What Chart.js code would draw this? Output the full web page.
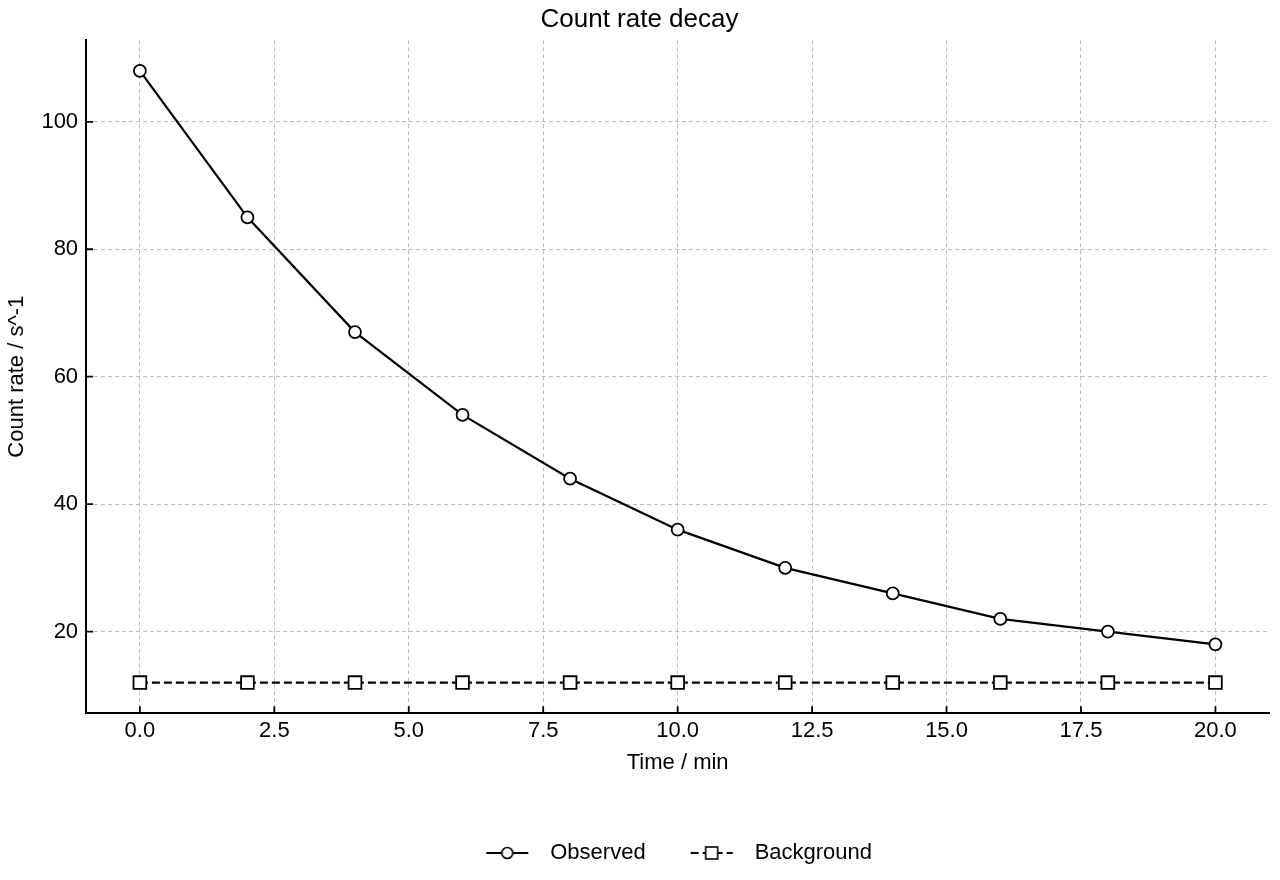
<!DOCTYPE html>
<html>
<head>
<meta charset="utf-8">
<script src="https://cdn.jsdelivr.net/npm/chart.js@4"></script>
<style>
  html, body { margin: 0; padding: 0; background: #fff; }
  #wrap { width: 1280px; height: 880px; }
</style>
</head>
<body>
<div id="wrap"><canvas id="chart"></canvas></div>
<script>
// data
const timeMin = [0, 2, 4, 6, 8, 10, 12, 14, 16, 18, 20];
const observed = [108, 85, 67, 54, 44, 36, 30, 26, 22, 20, 18];
const background = [12, 12, 12, 12, 12, 12, 12, 12, 12, 12, 12];
const xTicks = [0, 2.5, 5, 7.5, 10, 12.5, 15, 17.5, 20];
const yTicks = [20, 40, 60, 80, 100];

const FONT = '"Liberation Sans", Arial, Helvetica, sans-serif';

// legend swatch: short line with marker on it
function swatch(shape, dashed) {
    const c = document.createElement('canvas');
    c.width = 56; c.height = 20;
    const g = c.getContext('2d');
    g.strokeStyle = '#000';
    g.lineWidth = 2;
    if (dashed) g.setLineDash([8, 4]);
    g.beginPath(); g.moveTo(3, 10); g.lineTo(45, 10); g.stroke();
    g.setLineDash([]);
    g.fillStyle = '#fff';
    g.lineWidth = 1.6;
    if (shape === 'circle') {
        g.beginPath(); g.arc(24, 10, 5.5, 0, Math.PI * 2); g.fill(); g.stroke();
    } else {
        g.fillRect(18, 4, 12, 12); g.strokeRect(18, 4, 12, 12);
    }
    return c;
}

// inward tick marks, matplotlib style; legend centred on the plot
const inwardTicks = {
    id: 'inwardTicks',
    beforeDraw(chart) {
        const lg = chart.legend, a = chart.chartArea;
        if (lg) { lg.left = a.left; lg.right = a.right; }
    },
    afterDraw(chart) {
        const g = chart.ctx, a = chart.chartArea;
        const xs = chart.scales.x, ys = chart.scales.y;
        g.save();
        g.strokeStyle = '#000';
        g.lineWidth = 1.8;
        g.beginPath();
        xTicks.forEach(v => {
            const p = xs.getPixelForValue(v);
            g.moveTo(p, a.bottom); g.lineTo(p, a.bottom - 7);
        });
        yTicks.forEach(v => {
            const p = ys.getPixelForValue(v);
            g.moveTo(a.left, p); g.lineTo(a.left + 7, p);
        });
        g.stroke();
        g.restore();
    }
};

const ctx = document.getElementById('chart').getContext('2d');
new Chart(ctx, {
    type: 'line',
    data: {
        datasets: [{
            label: 'Observed',
            data: timeMin.map((t, i) => ({ x: t, y: observed[i] })),
            borderColor: '#000',
            borderWidth: 2.2,
            pointStyle: 'circle',
            pointRadius: 6,
            pointBorderWidth: 1.8,
            pointBackgroundColor: '#fff',
            pointBorderColor: '#000',
            tension: 0
        }, {
            label: 'Background',
            data: timeMin.map((t, i) => ({ x: t, y: background[i] })),
            borderColor: '#000',
            borderWidth: 2.2,
            borderDash: [8, 4],
            pointStyle: 'rect',
            pointRadius: 9,
            pointBorderWidth: 1.8,
            pointBackgroundColor: '#fff',
            pointBorderColor: '#000',
            tension: 0
        }]
    },
    options: {
        responsive: true,
        maintainAspectRatio: false,
        animation: false,
        layout: { padding: { left: 4, right: 5, top: 4, bottom: 6 } },
        plugins: {
            title: {
                display: true,
                text: 'Count rate decay',
                color: '#000',
                font: { family: FONT, size: 26, weight: 'normal' },
                padding: { top: 0, bottom: 5 }
            },
            legend: {
                position: 'bottom',
                labels: {
                    color: '#000',
                    font: { family: FONT, size: 22 },
                    usePointStyle: true,
                    pointStyleWidth: 56,
                    padding: 42,
                    generateLabels(chart) {
                        return chart.data.datasets.map((ds, i) => ({
                            text: ds.label,
                            datasetIndex: i,
                            pointStyle: swatch(i === 0 ? 'circle' : 'rect', i === 1),
                            fontColor: '#000',
                            lineWidth: 0,
                            hidden: false
                        }));
                    }
                }
            },
            tooltip: { enabled: false }
        },
        scales: {
            x: {
                type: 'linear',
                min: -1,
                max: 21,
                afterBuildTicks(s) { s.ticks = xTicks.map(v => ({ value: v })); },
                ticks: {
                    color: '#000',
                    font: { family: FONT, size: 22 },
                    padding: 5,
                    callback: v => v.toFixed(1)
                },
                grid: {
                    color: '#bdbdbd',
                    lineWidth: 1,
                    drawTicks: false
                },
                border: { display: true, color: '#000', width: 2, dash: [4, 3] },
                title: {
                    display: true,
                    text: 'Time / min',
                    color: '#000',
                    font: { family: FONT, size: 22 },
                    padding: { top: 0, bottom: 24 }
                }
            },
            y: {
                type: 'linear',
                min: 7.2,
                max: 112.8,
                afterBuildTicks(s) { s.ticks = yTicks.map(v => ({ value: v })); },
                ticks: {
                    color: '#000',
                    font: { family: FONT, size: 22 },
                    padding: 8
                },
                grid: {
                    color: '#bdbdbd',
                    lineWidth: 1,
                    drawTicks: false
                },
                border: { display: true, color: '#000', width: 2, dash: [4, 3] },
                title: {
                    display: true,
                    text: 'Count rate / s^-1',
                    color: '#000',
                    font: { family: FONT, size: 22 },
                    padding: { top: 0, bottom: 3 }
                }
            }
        }
    },
    plugins: [inwardTicks]
});
</script>
</body>
</html>
